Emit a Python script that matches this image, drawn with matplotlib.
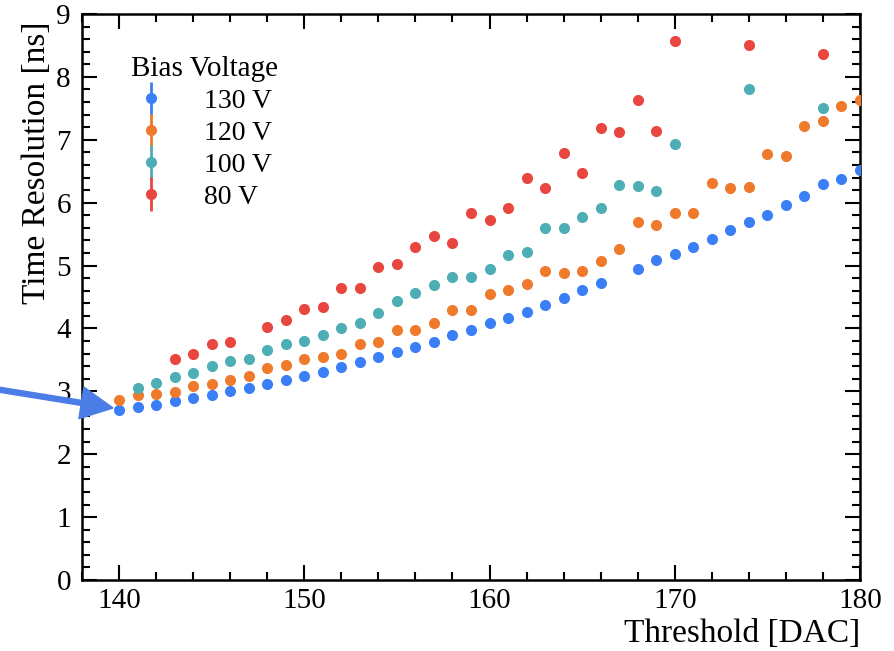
import matplotlib
matplotlib.use("Agg")
import matplotlib.pyplot as plt
import numpy as np
from matplotlib.patches import FancyArrow
from matplotlib.transforms import IdentityTransform
from matplotlib.legend_handler import HandlerErrorbar
from matplotlib.ticker import MultipleLocator

plt.rcParams['font.family'] = ['Liberation Serif', 'DejaVu Serif']
plt.rcParams['mathtext.fontset'] = 'stix'

x_130 = list(range(140, 167)) + list(range(168, 181))
y_130 = [2.70, 2.75, 2.79, 2.84, 2.89, 2.94, 3.00, 3.05, 3.12, 3.18,
         3.24, 3.31, 3.39, 3.47, 3.55, 3.63, 3.71, 3.79, 3.89, 3.97,
         4.08, 4.16, 4.26, 4.37, 4.49, 4.61, 4.72,
         4.94, 5.09, 5.19, 5.29, 5.42, 5.56, 5.69, 5.80, 5.96, 6.10, 6.30, 6.37, 6.52]

x_120 = list(range(140, 181))
y_120 = [2.87, 2.94, 2.95, 2.99, 3.08, 3.12, 3.18, 3.24, 3.37, 3.42,
         3.52, 3.54, 3.60, 3.76, 3.79, 3.97, 3.97, 4.09, 4.30, 4.29,
         4.54, 4.61, 4.70, 4.92, 4.88, 4.92, 5.08, 5.26, 5.70, 5.65,
         5.83, 5.83, 6.31, 6.24, 6.25, 6.77, 6.75, 7.22, 7.30, 7.54, 7.64]

x_100 = list(range(141, 171)) + [174, 178]
y_100 = [3.05, 3.13, 3.22, 3.29, 3.40, 3.48, 3.51, 3.66, 3.76,
         3.80, 3.90, 4.00, 4.09, 4.24, 4.43, 4.56, 4.69, 4.82, 4.82,
         4.94, 5.16, 5.22, 5.60, 5.60, 5.77, 5.92, 6.28, 6.27, 6.19,
         6.94, 7.81, 7.51]

x_80 = [143, 144, 145, 146] + list(range(148, 171)) + [174, 178]
y_80 = [3.52, 3.60, 3.75, 3.79, 4.02, 4.14, 4.31, 4.34, 4.65, 4.65,
        4.97, 5.02, 5.29, 5.47, 5.36, 5.83, 5.73, 5.91, 6.39, 6.23,
        6.79, 6.47, 7.18, 7.13, 7.63, 7.14, 8.57, 8.51, 8.36]

labels = ["130 V", "120 V", "100 V", "80 V"]
colors = ["#3a7ff5", "#ef7a2c", "#4daeb5", "#e8463f"]
series = [(x_130, y_130), (x_120, y_120), (x_100, y_100), (x_80, y_80)]

fig = plt.figure(figsize=(8.94, 6.51), dpi=100)
ax = fig.add_axes([82/894, 1-580/651, (860-82)/894, (580-14)/651])

handles = []
for (xs, ys), c, lab in zip(series, colors, labels):
    h = ax.errorbar(xs, ys, yerr=0.02, fmt='o', color=c, ms=8,
                    elinewidth=2, capsize=3, capthick=2, ecolor=c,
                    markeredgewidth=0, label=lab, zorder=3)
    handles.append(h)

ax.set_xlim(138, 180)
ax.set_ylim(0, 9)
ax.xaxis.set_major_locator(MultipleLocator(10))
ax.xaxis.set_minor_locator(MultipleLocator(2))
ax.yaxis.set_major_locator(MultipleLocator(1))
ax.yaxis.set_minor_locator(MultipleLocator(0.2))
ax.tick_params(which='both', direction='in', top=True, right=True,
               labelsize=21, width=1.5)
ax.tick_params(axis='x', pad=6)
ax.tick_params(axis='y', pad=8)
ax.tick_params(which='major', length=11)
ax.tick_params(which='minor', length=6)
for s in ax.spines.values():
    s.set_linewidth(1.8)

ax.set_xlabel("Threshold [DAC]", fontsize=24, loc='right', labelpad=3)
ax.set_ylabel("Time Resolution [ns]", fontsize=24, loc='top')
ax.yaxis.set_label_coords(-30/778, 1 - 8/566)

leg = ax.legend(handles=handles, labels=labels, title="Bias Voltage",
                loc='upper left', bbox_to_anchor=(0.049, 0.945),
                frameon=False, fontsize=20, title_fontsize=21,
                handlelength=1.0, handletextpad=1.4, labelspacing=0.23,
                borderaxespad=0.0,
                handler_map={type(handles[0]): HandlerErrorbar(yerr_size=0.6)})

arrow = FancyArrow(-5, 262, 118, -19, width=5, head_width=32, head_length=32,
                   length_includes_head=True, transform=IdentityTransform(),
                   color="#4a7de6", clip_on=False, zorder=10)
fig.add_artist(arrow)

fig.savefig("out.png", dpi=100)
